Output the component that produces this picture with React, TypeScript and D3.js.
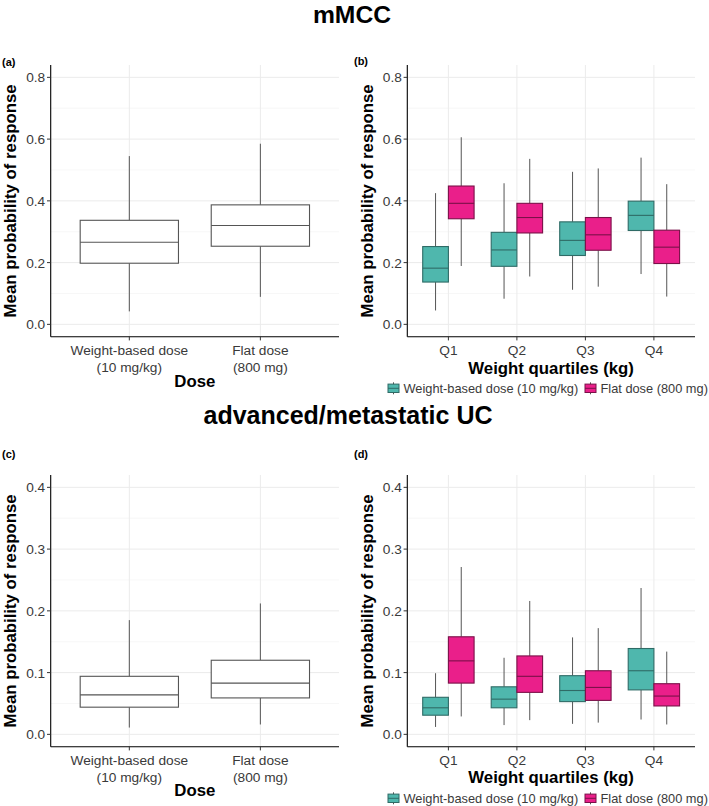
import React from "react";
import * as d3 from "d3";

// ---------- DATA ----------
// box = [lowerWhisker, q1, median, q3, upperWhisker]
const doseLine1 = ["Weight-based dose", "Flat dose"];
const doseLine2 = ["(10 mg/kg)", "(800 mg)"];
const quartiles = ["Q1", "Q2", "Q3", "Q4"];
const seriesNames = ["Weight-based dose (10 mg/kg)", "Flat dose (800 mg)"];

const mmccDose: number[][] = [
  [0.042, 0.198, 0.266, 0.337, 0.545],
  [0.089, 0.253, 0.32, 0.387, 0.585],
];
const mmccWeightBased: number[][] = [
  [0.045, 0.137, 0.182, 0.252, 0.425],
  [0.083, 0.188, 0.241, 0.298, 0.457],
  [0.112, 0.223, 0.272, 0.332, 0.494],
  [0.163, 0.304, 0.353, 0.399, 0.54],
];
const mmccFlat: number[][] = [
  [0.189, 0.342, 0.392, 0.448, 0.606],
  [0.155, 0.296, 0.346, 0.392, 0.536],
  [0.122, 0.24, 0.29, 0.346, 0.505],
  [0.09, 0.197, 0.25, 0.305, 0.454],
];
const ucDose: number[][] = [
  [0.011, 0.044, 0.064, 0.094, 0.185],
  [0.016, 0.059, 0.083, 0.12, 0.212],
];
const ucWeightBased: number[][] = [
  [0.012, 0.031, 0.043, 0.06, 0.099],
  [0.015, 0.043, 0.057, 0.077, 0.124],
  [0.017, 0.053, 0.071, 0.095, 0.157],
  [0.024, 0.072, 0.103, 0.139, 0.237],
];
const ucFlat: number[][] = [
  [0.029, 0.083, 0.119, 0.158, 0.271],
  [0.023, 0.068, 0.094, 0.127, 0.216],
  [0.019, 0.055, 0.076, 0.103, 0.172],
  [0.016, 0.046, 0.062, 0.082, 0.134],
];
const mmccTicks = [0, 0.2, 0.4, 0.6, 0.8];
const ucTicks = [0, 0.1, 0.2, 0.3, 0.4];

// ---------- STYLE ----------
const FONT = "'Liberation Sans', Arial, Helvetica, sans-serif";
const TEAL = "#4fb7ad";
const PINK = "#ea1f8a";
const TICK_COLOR = "#3a3a3a";
const GRID_MAJOR = "#ebebeb";
const GRID_MINOR = "#f5f5f5";

type Series = { boxes: number[][]; fill: string; stroke: string };

function Panel(props: {
  x0: number; x1: number; y0: number; y1: number;
  domain: [number, number]; ticks: number[];
  cats: string[]; cats2?: string[];
  series: Series[];
  tag: string; tagX: number; tagY: number;
  yTitleX: number; xTitle: string; xTitleY: number;
  legendY?: number;
}) {
  const { x0, x1, y0, y1, domain, ticks, cats, cats2, series } = props;
  const n = cats.length;
  const x = d3.scaleLinear().domain([0.4, n + 0.6]).range([x0, x1]);
  const y = d3.scaleLinear().domain(domain).range([y1, y0]);
  const unit = x(1) - x(0);
  const ns = series.length;
  const totalW = 0.75;
  const bw = totalW / ns;
  const minor = ticks.slice(0, -1).map((t, i) => (t + ticks[i + 1]) / 2);
  const tickFs = 13.7;
  return (
    <g>
      {/* grid */}
      {minor.map((t) => (
        <line key={"mn" + t} x1={x0} x2={x1} y1={y(t)} y2={y(t)} stroke={GRID_MINOR} strokeWidth={0.8} />
      ))}
      {ticks.map((t) => (
        <line key={"mj" + t} x1={x0} x2={x1} y1={y(t)} y2={y(t)} stroke={GRID_MAJOR} strokeWidth={1} />
      ))}
      {cats.map((c, i) => (
        <line key={"vg" + c} x1={x(i + 1)} x2={x(i + 1)} y1={y0} y2={y1} stroke={GRID_MAJOR} strokeWidth={1} />
      ))}
      {/* boxes */}
      {series.map((s, si) =>
        s.boxes.map((b, i) => {
          const cx = x(i + 1 - totalW / 2 + bw * (si + 0.5));
          const half = (bw * unit) / 2;
          return (
            <g key={"b" + si + "-" + i}>
              <line x1={cx} x2={cx} y1={y(b[4])} y2={y(b[3])} stroke="#555" strokeWidth={1} />
              <line x1={cx} x2={cx} y1={y(b[1])} y2={y(b[0])} stroke="#555" strokeWidth={1} />
              <rect x={cx - half} y={y(b[3])} width={half * 2} height={y(b[1]) - y(b[3])}
                fill={s.fill} stroke={s.stroke} strokeWidth={1.1} />
              <line x1={cx - half} x2={cx + half} y1={y(b[2])} y2={y(b[2])} stroke={s.stroke} strokeWidth={1.1} />
            </g>
          );
        })
      )}
      {/* axes */}
      <line x1={x0} x2={x0} y1={y0} y2={y1} stroke="#000" strokeWidth={1.1} />
      <line x1={x0} x2={x1} y1={y1} y2={y1} stroke="#000" strokeWidth={1.1} />
      {ticks.map((t) => (
        <g key={"yt" + t}>
          <line x1={x0 - 3.7} x2={x0} y1={y(t)} y2={y(t)} stroke="#333" strokeWidth={1} />
          <text x={x0 - 5.5} y={y(t) + tickFs * 0.36} textAnchor="end" fontSize={tickFs} fill={TICK_COLOR} fontFamily={FONT}>
            {t.toFixed(1)}
          </text>
        </g>
      ))}
      {cats.map((c, i) => (
        <g key={"xt" + c}>
          <line x1={x(i + 1)} x2={x(i + 1)} y1={y1} y2={y1 + 3.7} stroke="#333" strokeWidth={1} />
          <text x={x(i + 1)} y={y1 + 13.5 + tickFs * 0.36} textAnchor="middle" fontSize={tickFs} fill={TICK_COLOR} fontFamily={FONT}>
            {c}
          </text>
          {cats2 && (
            <text x={x(i + 1)} y={y1 + 30.3 + tickFs * 0.36} textAnchor="middle" fontSize={tickFs} fill={TICK_COLOR} fontFamily={FONT}>
              {cats2[i]}
            </text>
          )}
        </g>
      ))}
      {/* titles */}
      <text x={(x0 + x1) / 2} y={props.xTitleY + 16.8 * 0.36} textAnchor="middle" fontSize={16.8} fontWeight="bold" fontFamily={FONT} fill="#000">
        {props.xTitle}
      </text>
      <text transform={`translate(${props.yTitleX},${(y0 + y1) / 2}) rotate(-90)`} y={16.8 * 0.36} textAnchor="middle"
        fontSize={16.8} fontWeight="bold" fontFamily={FONT} fill="#000">
        Mean probability of response
      </text>
      <text x={props.tagX} y={props.tagY + 11 * 0.36} textAnchor="middle" fontSize={11} fontWeight="bold" fontFamily={FONT} fill="#000">
        {props.tag}
      </text>
      {props.legendY !== undefined && (
        <g>
          {[
            { kx: 393.5, tx: 403.5, fill: TEAL, stroke: "#2f6b66" },
            { kx: 590.5, tx: 600.5, fill: PINK, stroke: "#7a1048" },
          ].map((k, i) => {
            const ly = props.legendY as number;
            return (
              <g key={"lg" + i}>
                <line x1={k.kx} x2={k.kx} y1={ly - 6} y2={ly + 6} stroke="#555" strokeWidth={1} />
                <rect x={k.kx - 5.5} y={ly - 4.2} width={11} height={8.4} fill={k.fill} stroke={k.stroke} strokeWidth={1} />
                <line x1={k.kx - 5.5} x2={k.kx + 5.5} y1={ly} y2={ly} stroke={k.stroke} strokeWidth={1} />
                <text x={k.tx} y={ly + 12.8 * 0.36} fontSize={12.8} fill={TICK_COLOR} fontFamily={FONT}>
                  {seriesNames[i]}
                </text>
              </g>
            );
          })}
        </g>
      )}
    </g>
  );
}

export default function App() {
  const plainStroke = "#555";
  return (
    <svg width={709} height={806} style={{ position: "absolute", left: 0, top: 0, background: "#fff" }}
      xmlns="http://www.w3.org/2000/svg">
      <rect width={709} height={806} fill="#fff" />
      <text x={352} y={22.7} textAnchor="middle" fontSize={24.7} fontWeight="bold" fontFamily={FONT} fill="#000">
        mMCC
      </text>
      <text x={348} y={424.3} textAnchor="middle" fontSize={25} fontWeight="bold" fontFamily={FONT} fill="#000">
        advanced/metastatic UC
      </text>

      <Panel x0={50.7} x1={339} y0={65} y1={336.7} domain={[-0.04, 0.84]} ticks={mmccTicks}
        cats={doseLine1} cats2={doseLine2}
        series={[{ boxes: mmccDose, fill: "#fff", stroke: plainStroke }]}
        tag="(a)" tagX={8.8} tagY={61.7} yTitleX={9.5} xTitle="Dose" xTitleY={380.7} />

      <Panel x0={407.3} x1={695} y0={65} y1={336.7} domain={[-0.04, 0.84]} ticks={mmccTicks}
        cats={quartiles}
        series={[
          { boxes: mmccWeightBased, fill: TEAL, stroke: "#2f6b66" },
          { boxes: mmccFlat, fill: PINK, stroke: "#7a1048" },
        ]}
        tag="(b)" tagX={361} tagY={61} yTitleX={366.7} xTitle="Weight quartiles (kg)" xTitleY={368.3} legendY={388.3} />

      <Panel x0={50.7} x1={339} y0={475} y1={746.7} domain={[-0.02, 0.42]} ticks={ucTicks}
        cats={doseLine1} cats2={doseLine2}
        series={[{ boxes: ucDose, fill: "#fff", stroke: plainStroke }]}
        tag="(c)" tagX={8.8} tagY={454.3} yTitleX={9.5} xTitle="Dose" xTitleY={790.3} />

      <Panel x0={407.3} x1={695} y0={475} y1={746.7} domain={[-0.02, 0.42]} ticks={ucTicks}
        cats={quartiles}
        series={[
          { boxes: ucWeightBased, fill: TEAL, stroke: "#2f6b66" },
          { boxes: ucFlat, fill: PINK, stroke: "#7a1048" },
        ]}
        tag="(d)" tagX={361} tagY={454.3} yTitleX={366.7} xTitle="Weight quartiles (kg)" xTitleY={777.3} legendY={798.3} />
    </svg>
  );
}
